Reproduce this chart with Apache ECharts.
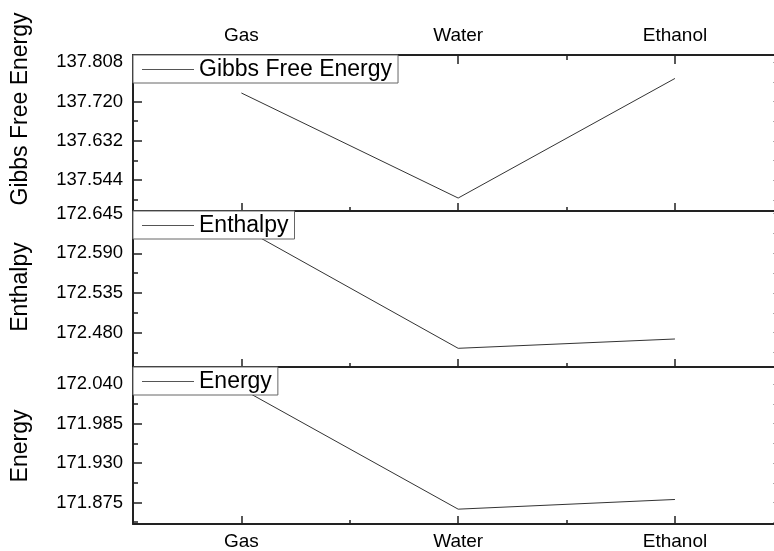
<!DOCTYPE html>
<html>
<head>
<meta charset="utf-8">
<script src="https://cdn.jsdelivr.net/npm/echarts@6/dist/echarts.min.js"></script>
<style>
html,body{margin:0;padding:0;background:#fff;overflow:hidden;width:774px;height:551px;}
#c{width:790px;height:551px;}
</style>
</head>
<body>
<div id="c"></div>
<script>
const categories = ['Gas', 'Water', 'Ethanol'];
const gibbs = [137.739, 137.504, 137.7715];
const enthalpy = [172.626, 172.4584, 172.4713];
const energy = [172.0337, 171.8657, 171.8792];
const gibbsTicks = [137.544, 137.632, 137.720, 137.808];
const gibbsMinor = [137.500, 137.588, 137.676, 137.764];
const enthalpyTicks = [172.480, 172.535, 172.590, 172.645];
const enthalpyMinor = [172.4525, 172.5075, 172.5625, 172.6175];
const energyTicks = [171.875, 171.930, 171.985, 172.040];
const energyMinor = [171.8475, 171.9025, 171.9575, 172.0125];
const catTicks = [1, 2, 3];
const catMinor = [1.5, 2.5];

const FONT = 'Liberation Sans, Arial, Helvetica, sans-serif';
const LINE = '#222';

const panels = [
  {name: 'Gibbs Free Energy', data: gibbs, ticks: gibbsTicks, minor: gibbsMinor, min: 137.475, max: 137.824, top: 55, height: 156, titleY: 109, topLabels: true, bottomLabels: false},
  {name: 'Enthalpy', data: enthalpy, ticks: enthalpyTicks, minor: enthalpyMinor, min: 172.4325, max: 172.6486, top: 211, height: 156, titleY: 287, topLabels: false, bottomLabels: false},
  {name: 'Energy', data: energy, ticks: energyTicks, minor: energyMinor, min: 171.845, max: 172.064, top: 367, height: 157, titleY: 446, topLabels: false, bottomLabels: true}
];

const grid = [], xAxis = [], yAxis = [], series = [], legend = [], graphic = [];
const XMIN = 0.5, XMAX = 3.48;

panels.forEach((p, gi) => {
  grid.push({left: 133, right: 11, top: p.top, height: p.height, containLabel: false});
  const catLabel = {
    show: true, customValues: catTicks, fontSize: 19, color: '#000', fontFamily: FONT,
    formatter: v => categories[Math.round(v) - 1] || ''
  };
  const mainX = xAxis.length;
  xAxis.push({
    type: 'value', gridIndex: gi, position: 'bottom', min: XMIN, max: XMAX,
    axisLine: {show: true, onZero: false, lineStyle: {color: LINE, width: 2}},
    axisTick: {show: true, inside: true, length: 8, customValues: catTicks, lineStyle: {color: LINE, width: 1.5}},
    axisLabel: p.bottomLabels ? Object.assign({margin: 8}, catLabel) : {show: false},
    splitLine: {show: false}
  });
  xAxis.push({
    type: 'value', gridIndex: gi, position: 'bottom', min: XMIN, max: XMAX,
    axisLine: {show: false, onZero: false},
    axisTick: {show: true, inside: true, length: 4, customValues: catMinor, lineStyle: {color: LINE, width: 1.5}},
    axisLabel: {show: false}, splitLine: {show: false}
  });
  xAxis.push({
    type: 'value', gridIndex: gi, position: 'top', min: XMIN, max: XMAX,
    axisLine: {show: true, onZero: false, lineStyle: {color: LINE, width: 2}},
    axisTick: {show: p.topLabels, inside: true, length: 9, customValues: catTicks, lineStyle: {color: LINE, width: 1.5}},
    axisLabel: p.topLabels ? Object.assign({margin: 10}, catLabel) : {show: false},
    splitLine: {show: false}
  });
  if (p.topLabels) {
    xAxis.push({
      type: 'value', gridIndex: gi, position: 'top', min: XMIN, max: XMAX,
      axisLine: {show: false, onZero: false},
      axisTick: {show: true, inside: true, length: 5, customValues: catMinor, lineStyle: {color: LINE, width: 1.5}},
      axisLabel: {show: false}, splitLine: {show: false}
    });
  }
  const mainY = yAxis.length;
  yAxis.push({
    type: 'value', gridIndex: gi, position: 'left', min: p.min, max: p.max,
    axisLine: {show: true, onZero: false, lineStyle: {color: LINE, width: 2}},
    axisTick: {show: true, inside: true, length: 9, customValues: p.ticks, lineStyle: {color: LINE, width: 1.5}},
    axisLabel: {show: true, customValues: p.ticks, margin: 10, fontSize: 18.5, color: '#000', fontFamily: FONT, formatter: v => v.toFixed(3)},
    splitLine: {show: false}
  });
  yAxis.push({
    type: 'value', gridIndex: gi, position: 'left', min: p.min, max: p.max,
    axisLine: {show: false, onZero: false},
    axisTick: {show: true, inside: true, length: 5, customValues: p.minor, lineStyle: {color: LINE, width: 1.5}},
    axisLabel: {show: false}, splitLine: {show: false}
  });
  yAxis.push({
    type: 'value', gridIndex: gi, position: 'right', min: p.min, max: p.max,
    axisLine: {show: true, onZero: false, lineStyle: {color: LINE, width: 2}},
    axisTick: {show: true, inside: true, length: 6, customValues: p.ticks.concat(p.minor), lineStyle: {color: '#aaa', width: 1}},
    axisLabel: {show: false}, splitLine: {show: false}
  });
  series.push({
    type: 'line', name: p.name, xAxisIndex: mainX, yAxisIndex: mainY,
    data: p.data.map((v, i) => [i + 1, v]),
    symbol: 'none', showSymbol: false, color: '#333',
    lineStyle: {color: '#333', width: 1}
  });
  legend.push({
    data: [p.name], left: 133, top: p.top, orient: 'horizontal',
    icon: 'rect', itemWidth: 52, itemHeight: 1, itemGap: 0, padding: [3, 6, 2, 9],
    borderColor: '#666', borderWidth: 1, borderRadius: 0, backgroundColor: '#fff',
    selectedMode: false, z: 10,
    itemStyle: {color: '#555'},
    textStyle: {fontSize: 23, color: '#000', fontFamily: FONT}
  });
  graphic.push({
    type: 'text', x: 21, y: p.titleY, rotation: Math.PI / 2,
    style: {text: p.name, fontSize: 23, fill: '#000', fontFamily: FONT, align: 'center', verticalAlign: 'middle'}
  });
});

const chart = echarts.init(document.getElementById('c'), null, {renderer: 'canvas'});
chart.setOption({
  animation: false,
  backgroundColor: '#fff',
  grid, xAxis, yAxis, series, legend, graphic
});
</script>
</body>
</html>
